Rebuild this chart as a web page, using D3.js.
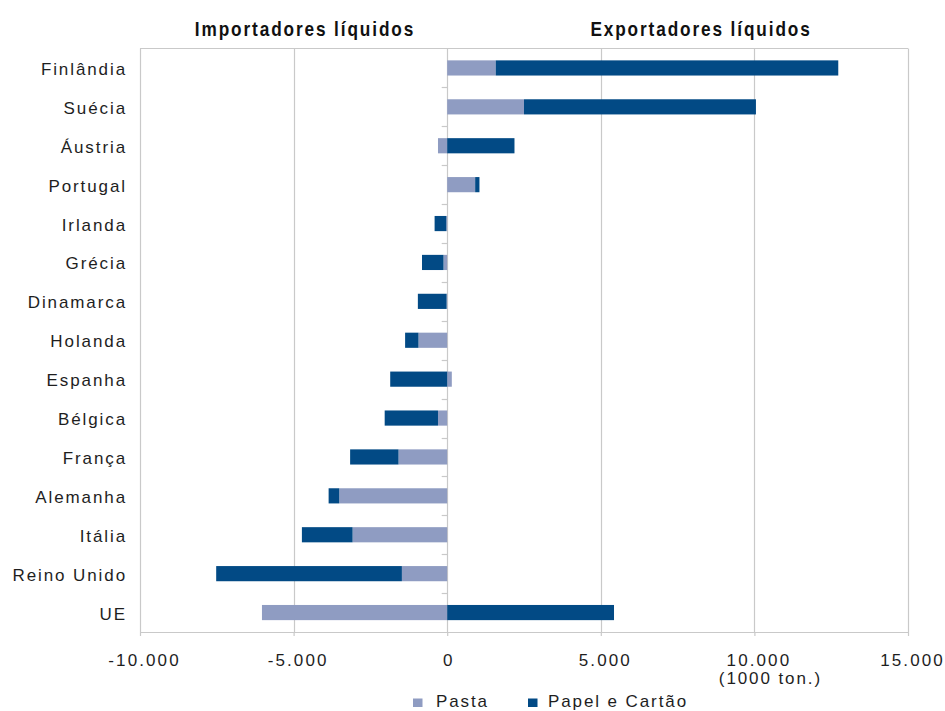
<!DOCTYPE html>
<html lang="pt">
<head>
<meta charset="utf-8">
<script src="https://cdn.jsdelivr.net/npm/d3@7"></script>
<style>
  html, body { margin: 0; padding: 0; background: #fff; }
  svg { display: block; }
</style>
</head>
<body>
<svg id="chart" width="945" height="711"></svg>
<script>
// Comércio líquido de pasta e de papel e cartão (1000 ton.)
const countries = ["Finlândia", "Suécia", "Áustria", "Portugal", "Irlanda", "Grécia",
  "Dinamarca", "Holanda", "Espanha", "Bélgica", "França", "Alemanha", "Itália",
  "Reino Unido", "UE"];
const pasta = [1580, 2500, -300, 910, -30, -120, -20, -935, 150, -300, -1585, -3515, -3080, -1475, -6030];
const papelCartao = [11150, 7550, 2190, 140, -380, -700, -935, -435, -1855, -1735, -1575, -345, -1650, -6045, 5430];
const seriesNames = ["Pasta", "Papel e Cartão"];
const seriesColors = ["#8f9cc2", "#024a85"];
const xTicks = [-10000, -5000, 0, 5000, 10000, 15000];
const headings = ["Importadores líquidos", "Exportadores líquidos"];
const unitLabel = "(1000 ton.)";

const rows = countries.map((c, i) => ({ country: c, "Pasta": pasta[i], "Papel e Cartão": papelCartao[i] }));

const svg = d3.select("#chart");
const margin = { left: 140, right: 37, top: 48.5, bottom: 79 };
const W = 945, H = 711;
const plotW = W - margin.left - margin.right;
const plotH = H - margin.top - margin.bottom;

const x = d3.scaleLinear().domain([-10000, 15000]).range([margin.left, margin.left + plotW]);
const y = d3.scaleBand().domain(countries).range([margin.top, margin.top + plotH])
  .paddingInner(0.61).paddingOuter(0.305);

const locale = d3.formatLocale({ decimal: ",", thousands: ".", grouping: [3], currency: ["€", ""], minus: "-" });
const fmt = locale.format(",.0f");

const font = "'Liberation Sans', Arial, Helvetica, sans-serif";
const gridColor = "#c9c9c9";
const textColor = "#1e1e1e";

// Vertical gridlines
svg.append("g").selectAll("line").data(xTicks).join("line")
  .attr("x1", d => Math.round(x(d)) + 0.5).attr("x2", d => Math.round(x(d)) + 0.5)
  .attr("y1", margin.top).attr("y2", margin.top + plotH)
  .attr("stroke", gridColor).attr("stroke-width", 1.2);

// Top edge of the plot frame
svg.append("line").attr("x1", x(-10000)).attr("x2", x(15000))
  .attr("y1", margin.top).attr("y2", margin.top)
  .attr("stroke", gridColor).attr("stroke-width", 1.2);

// Stacked diverging bars
const stack = d3.stack().keys(seriesNames).offset(d3.stackOffsetDiverging);
const layers = stack(rows);
svg.append("g").selectAll("g").data(layers).join("g")
  .attr("fill", (d, i) => seriesColors[i])
  .selectAll("rect").data(d => d).join("rect")
  .attr("x", d => x(Math.min(d[0], d[1])))
  .attr("width", d => Math.abs(x(d[1]) - x(d[0])))
  .attr("y", d => y(d.data.country))
  .attr("height", y.bandwidth());

// Small ticks on the zero line between categories
const boundaries = countries.slice(1).map(c => y(c) - y.step() * y.paddingInner() / 2);
svg.append("g").selectAll("line").data(boundaries).join("line")
  .attr("x1", x(0) - 5.5).attr("x2", x(0) + 0.5)
  .attr("y1", d => Math.round(d) + 0.5).attr("y2", d => Math.round(d) + 0.5)
  .attr("stroke", gridColor).attr("stroke-width", 1.2);

// Category labels
svg.append("g").selectAll("text").data(countries).join("text")
  .attr("x", 127)
  .attr("y", d => y(d) + y.bandwidth() / 2 + 7)
  .attr("text-anchor", "end")
  .attr("font-family", font).attr("font-size", 17).attr("letter-spacing", 1.9)
  .attr("fill", textColor)
  .text(d => d);

// Bottom axis
const xAxis = d3.axisBottom(x).tickValues(xTicks).tickFormat(fmt).tickSize(4).tickSizeOuter(0);
const gx = svg.append("g").attr("transform", `translate(0,${margin.top + plotH})`).call(xAxis);
gx.select(".domain").attr("stroke", gridColor).attr("stroke-width", 1.2);
gx.selectAll(".tick line").attr("stroke", gridColor).attr("stroke-width", 1.2);
gx.selectAll(".tick text")
  .attr("x", d => d === 0 ? 1 : 4).attr("y", 34).attr("dy", 0)
  .attr("font-family", font).attr("font-size", 17).attr("letter-spacing", 2.1)
  .attr("fill", textColor);

svg.append("text")
  .attr("x", x(10000) + 16).attr("y", margin.top + plotH + 52)
  .attr("text-anchor", "middle")
  .attr("font-family", font).attr("font-size", 17).attr("letter-spacing", 1.9)
  .attr("fill", textColor)
  .text(unitLabel);

// Headings over each side (condensed bold)
const headX = [305, 701];
svg.append("g").selectAll("text").data(headings).join("text")
  .attr("transform", (d, i) => `translate(${headX[i]},35.5) scale(0.82,1)`)
  .attr("text-anchor", "middle")
  .attr("font-family", font)
  .attr("font-weight", "bold").attr("font-size", 21).attr("letter-spacing", 2.3)
  .attr("fill", "#111")
  .text(d => d);

// Legend
const legendX = [413, 528];
const legend = svg.append("g").selectAll("g").data(seriesNames).join("g")
  .attr("transform", (d, i) => `translate(${legendX[i]},698.5)`);
legend.append("rect").attr("width", 9.5).attr("height", 8.5)
  .attr("fill", (d, i) => seriesColors[i]);
legend.append("text")
  .attr("x", (d, i) => i === 0 ? 23 : 20).attr("y", 8.5)
  .attr("font-family", font).attr("font-size", 17).attr("letter-spacing", 1.9)
  .attr("fill", textColor)
  .text(d => d);
</script>
</body>
</html>
